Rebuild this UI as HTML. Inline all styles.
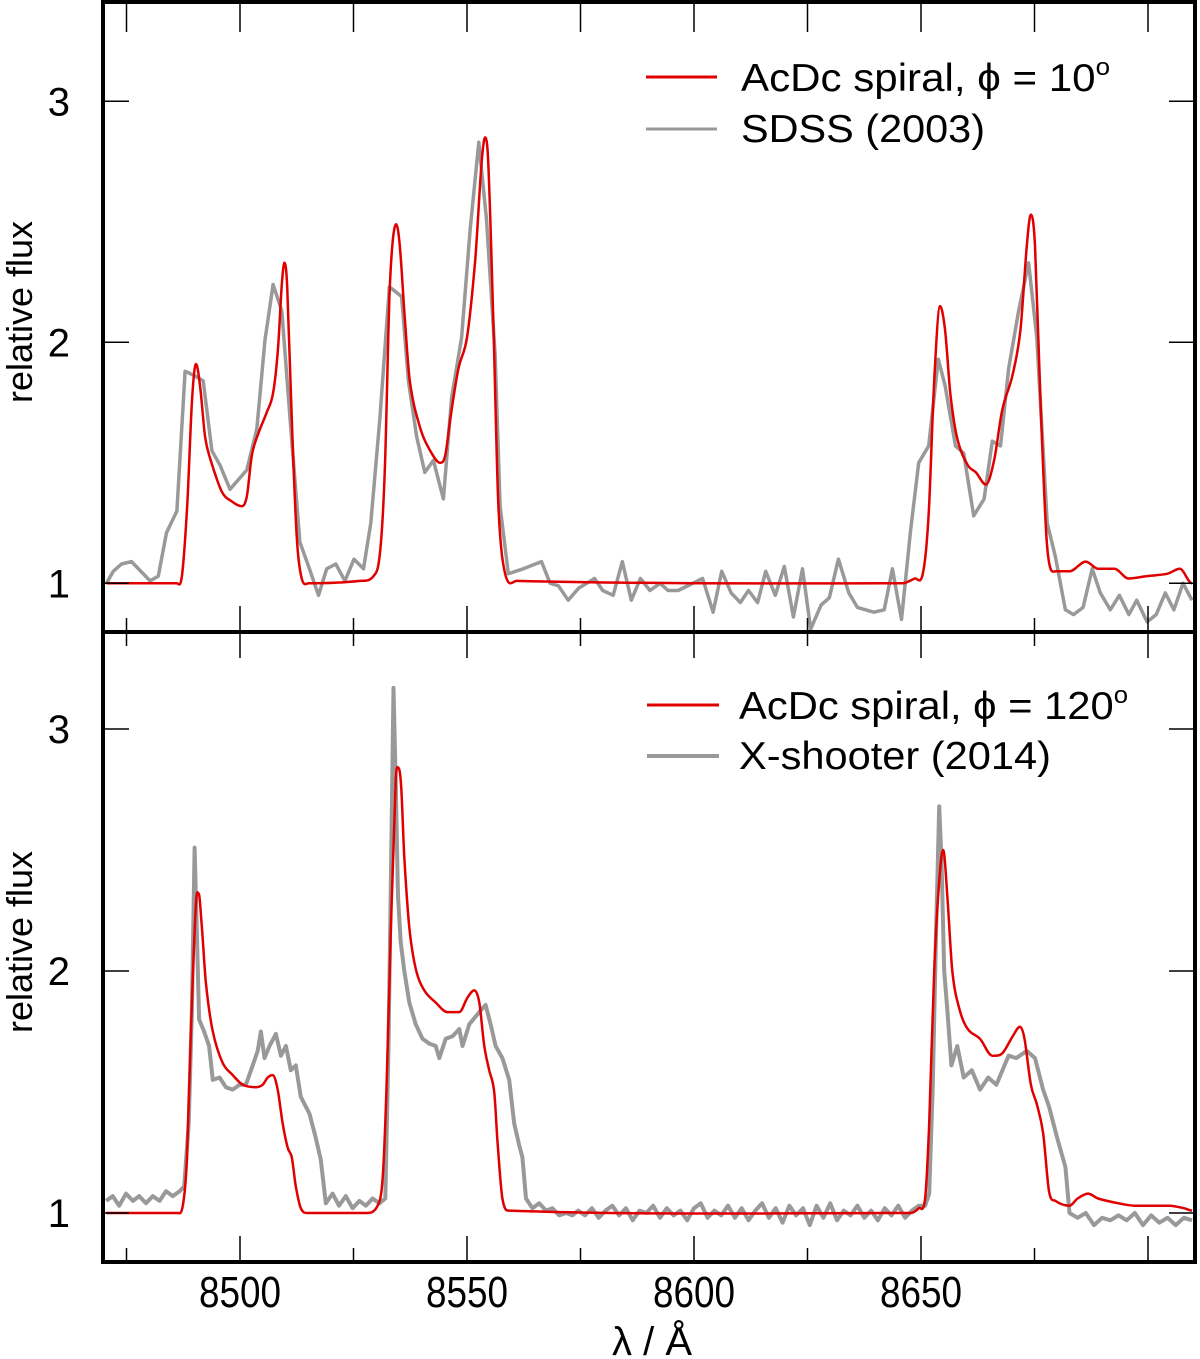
<!DOCTYPE html>
<html><head><meta charset="utf-8">
<style>
html,body{margin:0;padding:0;background:#fff;}
svg{display:block;font-family:"Liberation Sans",sans-serif;}
</style></head>
<body>
<svg id="chart" width="1200" height="1359" viewBox="0 0 1200 1359" xmlns="http://www.w3.org/2000/svg">
<defs>
<clipPath id="clipTop"><rect x="103" y="2" width="1092" height="630"/></clipPath>
<clipPath id="clipBot"><rect x="103" y="632" width="1092" height="630"/></clipPath>
</defs>
<g id="grid"></g>
<g id="series"></g>
<g id="frame"></g>
<g id="labels">
<text transform="translate(32,312) rotate(-90)" text-anchor="middle" font-size="36">relative flux</text>
<text transform="translate(32,942) rotate(-90)" text-anchor="middle" font-size="36">relative flux</text>
<text x="652" y="1355" text-anchor="middle" font-size="40">λ / Å</text>
<g>
<line x1="646" y1="77" x2="717" y2="77" stroke="#e00000" stroke-width="3"/>
<text x="741" y="91" font-size="39" textLength="369" lengthAdjust="spacingAndGlyphs">AcDc spiral, ϕ = 10<tspan dy="-16" font-size="24">o</tspan></text>
<line x1="646" y1="129" x2="717" y2="129" stroke="#999" stroke-width="3"/>
<text x="741" y="142" font-size="39" textLength="244" lengthAdjust="spacingAndGlyphs">SDSS (2003)</text>
</g>
<g>
<line x1="647" y1="705" x2="719" y2="705" stroke="#e00000" stroke-width="3"/>
<text x="739" y="719" font-size="39" textLength="389" lengthAdjust="spacingAndGlyphs">AcDc spiral, ϕ = 120<tspan dy="-16" font-size="24">o</tspan></text>
<line x1="647" y1="756" x2="719" y2="756" stroke="#999" stroke-width="4"/>
<text x="739" y="769" font-size="39" textLength="312" lengthAdjust="spacingAndGlyphs">X-shooter (2014)</text>
</g>
</g>
</svg>
<script>
// ---- data ----
const xTickLabels = [8500, 8550, 8600, 8650];
const xMinorTicks = [8475, 8500, 8525, 8550, 8575, 8600, 8625, 8650, 8675, 8700];
const yTickValues = [1, 2, 3];

const sdssLam = [8470.6,8472.1,8473.9,8476.1,8480.2,8482.0,8483.8,8486.1,8487.9,8490.1,8491.9,8493.8,8495.6,8497.8,8501.5,8503.7,8505.5,8507.3,8509.2,8511.4,8513.2,8515.1,8517.3,8519.1,8521.1,8523.1,8525.1,8527.2,8528.8,8530.8,8532.9,8535.6,8537.1,8538.9,8540.7,8542.6,8544.8,8546.6,8548.8,8550.7,8552.6,8554.3,8556.2,8557.3,8559.1,8562.4,8566.4,8568.3,8570.1,8572.3,8574.6,8578.1,8579.9,8582.2,8584.2,8586.2,8588.2,8590.3,8592.5,8594.3,8596.5,8601.9,8604.2,8606.1,8608.2,8610.2,8612.0,8614.0,8615.8,8617.9,8619.9,8621.9,8623.9,8625.7,8628.0,8629.8,8631.8,8634.1,8636.0,8639.6,8641.9,8643.7,8645.7,8647.7,8649.5,8651.7,8653.8,8655.3,8657.6,8659.4,8661.6,8663.9,8665.7,8667.5,8669.3,8671.5,8673.7,8675.5,8677.8,8679.6,8681.8,8683.6,8685.7,8687.7,8689.5,8691.7,8693.7,8695.8,8697.5,8699.8,8701.8,8703.8,8705.7,8707.7,8709.7];
const sdssFlux = [1.0,1.05,1.08,1.09,1.01,1.03,1.21,1.30,1.88,1.86,1.84,1.55,1.49,1.39,1.47,1.64,2.01,2.24,2.13,1.59,1.17,1.07,0.95,1.06,1.08,1.01,1.10,1.06,1.25,1.68,2.23,2.19,1.84,1.61,1.46,1.51,1.35,1.77,2.02,2.47,2.83,2.51,1.95,1.32,1.04,1.06,1.09,1.0,0.99,0.93,0.98,1.02,0.97,0.95,1.09,0.93,1.02,0.97,1.0,0.97,0.97,1.02,0.88,1.05,0.96,0.92,0.97,0.92,1.05,0.95,1.07,0.86,1.06,0.81,0.91,0.94,1.10,0.96,0.90,0.88,0.89,1.06,0.85,1.22,1.50,1.57,1.93,1.82,1.57,1.54,1.28,1.35,1.59,1.57,1.89,2.13,2.33,2.02,1.25,1.11,0.89,0.87,0.90,1.06,0.96,0.89,0.95,0.87,0.93,0.84,0.87,0.96,0.89,1.0,0.93];

const model10Lam = [8470.6,8486.1,8487.2,8488.4,8489.4,8490.3,8491.2,8492.3,8493.4,8496.0,8498.2,8500.4,8501.5,8502.6,8504.0,8505.9,8507.3,8508.4,8509.2,8509.8,8510.4,8511.4,8512.5,8513.6,8515.1,8526.4,8529.4,8530.8,8531.9,8533.0,8534.4,8535.2,8536.3,8537.4,8539.6,8541.9,8544.1,8545.2,8546.3,8548.1,8550.0,8551.8,8553.2,8554.0,8554.7,8555.8,8556.9,8558.4,8560.9,8645.9,8648.6,8650.4,8651.7,8652.9,8654.2,8655.3,8656.5,8658.0,8660.3,8662.1,8664.3,8666.1,8667.9,8670.1,8671.9,8673.3,8674.2,8675.1,8676.4,8677.8,8679.6,8682.7,8686.3,8689.0,8692.6,8695.7,8699.8,8704.3,8707.0,8709.7];
const model10Flux = [1.0,1.0,1.03,1.33,1.75,1.91,1.82,1.61,1.52,1.38,1.34,1.32,1.36,1.53,1.62,1.71,1.79,1.98,2.24,2.33,2.23,1.68,1.19,1.02,1.0,1.01,1.03,1.12,1.47,2.23,2.49,2.40,2.10,1.84,1.65,1.55,1.50,1.53,1.68,1.89,2.02,2.34,2.74,2.85,2.74,2.09,1.33,1.04,1.01,1.0,1.02,1.04,1.29,1.84,2.15,2.05,1.78,1.60,1.49,1.46,1.41,1.51,1.72,1.86,2.05,2.40,2.53,2.40,1.71,1.15,1.05,1.05,1.09,1.06,1.06,1.02,1.03,1.04,1.06,1.0];

const xshLam = [8470.5,8471.97,8473.4,8474.9,8476.4,8477.8,8479.3,8480.8,8482.3,8483.7,8485.2,8486.7,8487.7,8488.7,8489.4,8490.0,8490.5,8491.0,8492.1,8493.2,8494.0,8495.5,8496.9,8498.4,8499.9,8501.3,8502.8,8503.9,8504.6,8505.4,8506.5,8507.9,8509.0,8510.1,8511.2,8512.3,8513.4,8515.3,8516.7,8517.8,8518.9,8520.4,8521.8,8523.3,8524.8,8526.3,8527.7,8529.2,8530.7,8532.0,8532.7,8533.3,8533.8,8534.3,8534.8,8535.4,8536.2,8537.3,8538.7,8540.2,8541.7,8543.1,8543.9,8545.3,8546.8,8548.3,8549.0,8550.5,8552.7,8554.1,8555.2,8556.3,8557.8,8559.3,8560.4,8561.5,8562.2,8563.0,8564.4,8565.9,8567.4,8568.8,8570.3,8571.8,8573.2,8574.5,8576,8577.5,8579,8580.5,8582,8583.5,8585,8586.5,8588,8589.5,8591,8592.5,8594,8595.5,8597,8598.5,8600,8601.5,8603,8604.5,8606,8607.5,8609,8610.5,8612,8613.5,8615,8616.5,8618,8619.5,8621,8622.5,8624,8625.5,8627,8628.5,8630,8631.5,8633,8634.5,8636,8637.5,8639,8640.5,8642,8643.5,8645,8646.5,8648,8649.5,8650.9,8651.8,8652.6,8653.3,8654.0,8654.5,8655.1,8655.8,8656.7,8658.0,8659.4,8661.2,8663.0,8664.8,8666.6,8668.4,8669.3,8671.0,8673.3,8675.1,8676.9,8678.2,8680.0,8681.8,8682.7,8684.5,8686.3,8688.1,8689.9,8691.7,8693.5,8695.3,8697.1,8698.9,8700.7,8702.5,8704.3,8706.1,8707.9,8709.7];
const xshFlux = [1.05,1.07,1.03,1.08,1.05,1.07,1.04,1.07,1.05,1.09,1.07,1.09,1.11,1.37,1.84,2.51,2.15,1.80,1.75,1.69,1.55,1.56,1.52,1.51,1.53,1.53,1.61,1.67,1.75,1.64,1.69,1.74,1.65,1.69,1.59,1.61,1.48,1.41,1.31,1.22,1.04,1.08,1.03,1.07,1.02,1.05,1.03,1.06,1.04,1.06,1.69,2.47,3.17,2.78,2.31,2.12,2.00,1.87,1.78,1.72,1.70,1.69,1.64,1.72,1.73,1.76,1.69,1.78,1.83,1.86,1.78,1.69,1.64,1.55,1.37,1.28,1.23,1.06,1.02,1.04,1.01,1.02,0.99,1.0,0.99,1.01,0.99,1.02,0.98,1.01,1.03,0.99,1.02,0.97,1.01,1.0,1.03,0.98,1.02,0.99,1.01,0.97,1.02,1.04,0.98,1.01,0.99,1.03,0.98,1.02,0.97,1.01,1.04,0.98,1.02,0.96,1.03,0.99,1.02,0.95,1.03,0.98,1.04,0.97,1.01,0.99,1.03,0.98,1.01,0.97,1.02,0.99,1.03,0.98,1.01,1.03,1.03,1.08,1.53,2.15,2.68,2.47,2.0,1.84,1.61,1.69,1.56,1.59,1.51,1.56,1.53,1.61,1.65,1.64,1.67,1.64,1.51,1.44,1.31,1.19,1.0,0.98,1.0,0.95,0.98,0.97,0.99,0.97,1.0,0.95,0.99,0.96,0.98,0.95,0.98,0.97];

const model120Lam = [8470.5,8486.3,8487.4,8488.3,8489.2,8490.3,8490.9,8491.6,8492.5,8494.0,8496.2,8498.4,8500.6,8503.5,8505.0,8506.1,8507.2,8508.3,8509.4,8510.5,8511.4,8512.3,8513.4,8514.9,8527.7,8530.3,8531.4,8532.3,8533.2,8534.3,8534.9,8535.5,8536.2,8537.3,8538.7,8540.6,8543.1,8545.7,8548.3,8550.1,8551.6,8552.7,8553.8,8554.9,8556.0,8556.7,8557.8,8559.3,8647.7,8649.5,8650.9,8651.8,8652.9,8654.0,8654.9,8655.8,8656.9,8658.5,8660.3,8663.0,8665.7,8667.9,8670.2,8671.8,8672.8,8674.2,8675.5,8676.9,8678.2,8679.6,8682.7,8684.5,8686.8,8689.0,8693.5,8697.1,8704.7,8707.9,8709.7];
const model120Flux = [1.0,1.0,1.03,1.22,1.76,2.28,2.32,2.18,1.95,1.75,1.62,1.57,1.53,1.52,1.53,1.56,1.57,1.51,1.37,1.27,1.23,1.11,1.02,1.0,1.0,1.03,1.14,1.53,2.15,2.78,2.84,2.76,2.47,2.18,2.01,1.92,1.87,1.83,1.83,1.89,1.92,1.87,1.69,1.59,1.50,1.30,1.06,1.01,1.0,1.02,1.06,1.37,2.0,2.37,2.50,2.31,2.0,1.84,1.76,1.72,1.65,1.66,1.73,1.77,1.72,1.53,1.45,1.33,1.09,1.05,1.03,1.06,1.08,1.06,1.04,1.03,1.03,1.02,1.01];

// ---- axes ----
const X0 = 240, XS = 4.54;
function xScale(l){ return X0 + (l - 8500) * XS; }
function yTop(v){ return 583.3 - (v - 1) * 241; }
function yBot(v){ return 1213 - (v - 1) * 242; }

const NS = "http://www.w3.org/2000/svg";
function mk(tag, attrs, parent){
  const e = document.createElementNS(NS, tag);
  for (const k in attrs) e.setAttribute(k, attrs[k]);
  parent.appendChild(e);
  return e;
}
const series = document.getElementById('series');
const frame = document.getElementById('frame');

function drawLine(lams, vals, yf, color, w, clip, name, smooth){
  const pts = lams.map(function(l, i){ return [xScale(l), yf(vals[i])]; });
  const n = pts.length;
  // slopes (monotone-ish Hermite)
  const m = pts.map(function(p, i){
    if (i === 0 || i === n - 1) return 0;
    const a = pts[i - 1], b = pts[i + 1];
    const s1 = (p[1] - a[1]) / (p[0] - a[0]), s2 = (b[1] - p[1]) / (b[0] - p[0]);
    if (s1 * s2 <= 0) return 0;
    return (b[1] - a[1]) / (b[0] - a[0]);
  });
  let d = "M" + pts[0][0].toFixed(1) + "," + pts[0][1].toFixed(1);
  for (let i = 1; i < n; i++){
    const p1 = pts[i - 1], p2 = pts[i];
    if (smooth){
      const dx = (p2[0] - p1[0]) / 3;
      const c1x = p1[0] + dx, c1y = p1[1] + m[i - 1] * dx;
      const c2x = p2[0] - dx, c2y = p2[1] - m[i] * dx;
      d += "C" + c1x.toFixed(1) + "," + c1y.toFixed(1) + " " + c2x.toFixed(1) + "," + c2y.toFixed(1) + " " + p2[0].toFixed(1) + "," + p2[1].toFixed(1);
    } else {
      d += "L" + p2[0].toFixed(1) + "," + p2[1].toFixed(1);
    }
  }
  const p = mk('path', {d: d, fill: 'none', stroke: color, 'stroke-width': w, 'stroke-linejoin': 'round', 'clip-path': 'url(#' + clip + ')'}, series);
  
  
}
drawLine(sdssLam, sdssFlux, yTop, '#999999', 3.5, 'clipTop', 'sdss-2003-line', false);
drawLine(model10Lam, model10Flux, yTop, '#e00000', 2.5, 'clipTop', 'acdc-phi10-line', true);
drawLine(xshLam, xshFlux, yBot, '#999999', 4, 'clipBot', 'xshooter-2014-line', false);
drawLine(model120Lam, model120Flux, yBot, '#e00000', 2.5, 'clipBot', 'acdc-phi120-line', true);

// frames
const fTop = mk('rect', {x: 103, y: 2, width: 1092, height: 630, fill: 'none', stroke: '#000', 'stroke-width': 4}, frame);


const fBot = mk('rect', {x: 103, y: 632, width: 1092, height: 630, fill: 'none', stroke: '#000', 'stroke-width': 4}, frame);



// x ticks
xMinorTicks.forEach(function(l){
  const x = xScale(l);
  const major = (l % 50 === 0);
  const len = major ? 26 : 14;
  [[2, 1], [632, -1], [632, 1], [1262, -1]].forEach(function(pair){
    const y0 = pair[0], dir = pair[1];
    const L = (y0 === 2) ? 30 : len;
    const t = mk('line', {x1: x, x2: x, y1: y0, y2: y0 + dir * L, stroke: '#000', 'stroke-width': 1.5}, frame);
    
    
  });
});
xTickLabels.forEach(function(l){
  const t = mk('text', {x: xScale(l), y: 1307, 'text-anchor': 'middle', 'font-size': 44, textLength: 82, lengthAdjust: 'spacingAndGlyphs'}, frame);
  t.textContent = l;
  
  
});
// y ticks
[yTop, yBot].forEach(function(yf){
  yTickValues.forEach(function(v){
    const y = yf(v);
    const a = mk('line', {x1: 103, x2: 129, y1: y, y2: y, stroke: '#000', 'stroke-width': 1.5}, frame);
    
    
    const b = mk('line', {x1: 1169, x2: 1195, y1: y, y2: y, stroke: '#000', 'stroke-width': 1.5}, frame);
    
    
    const t = mk('text', {x: 70, y: y + 14, 'text-anchor': 'end', 'font-size': 40}, frame);
    t.textContent = v;
    
    
  });
});
</script>
</body></html>
